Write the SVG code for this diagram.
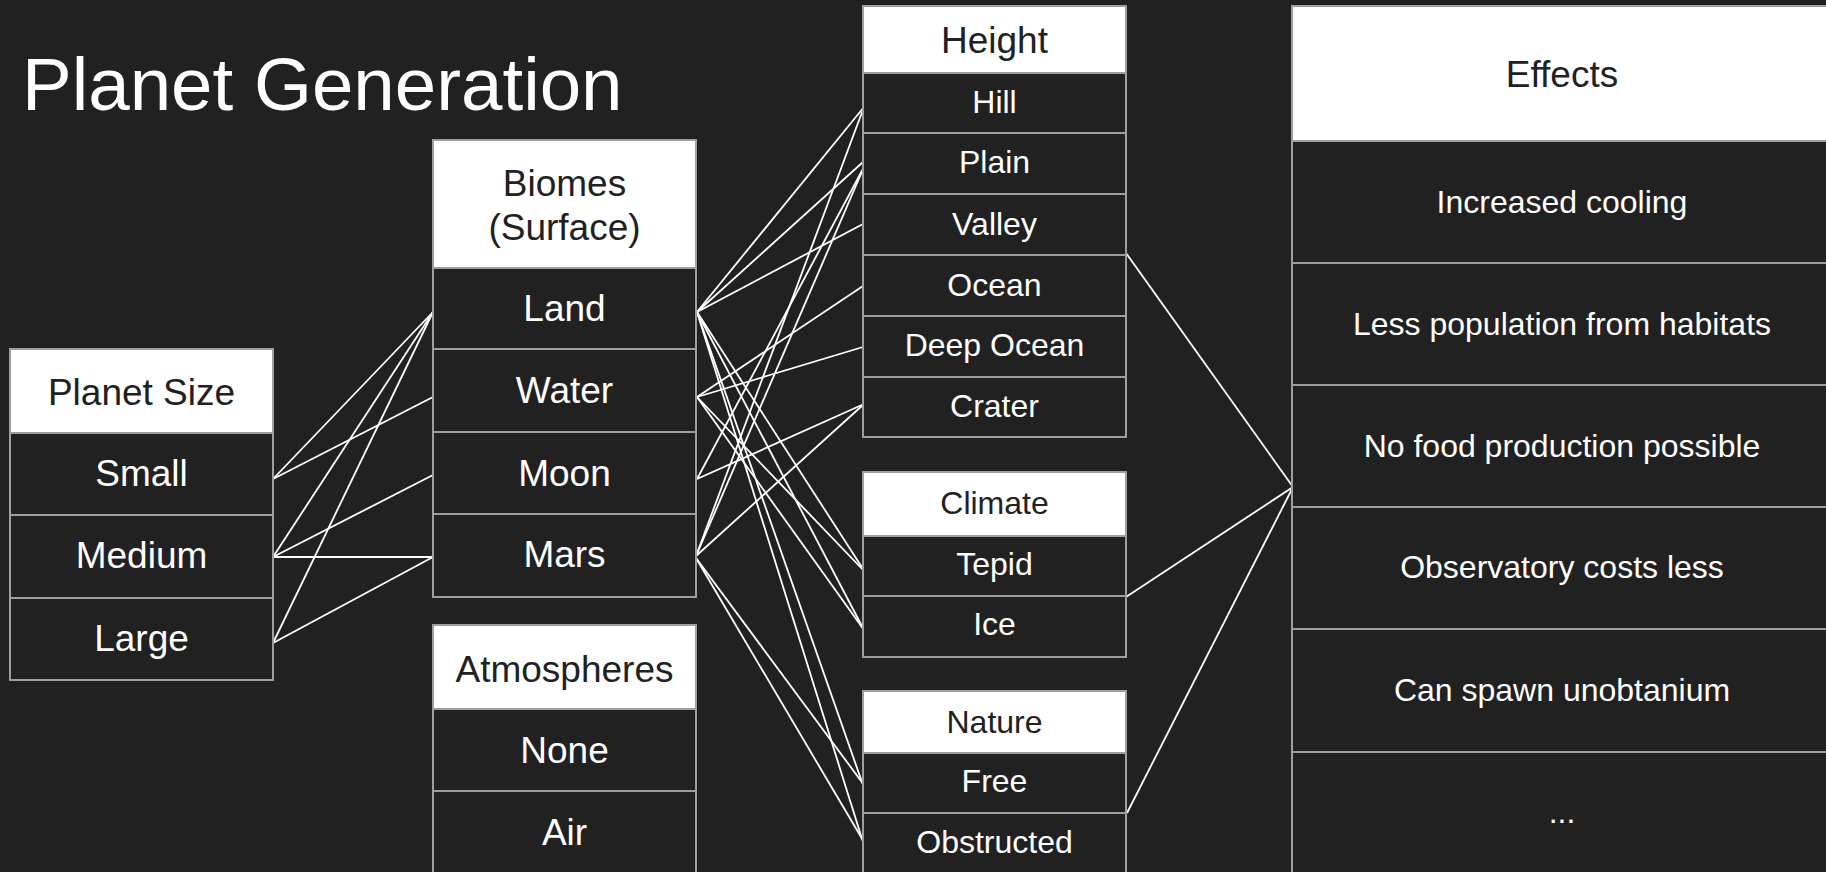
<svg xmlns="http://www.w3.org/2000/svg" width="1826" height="872" viewBox="0 0 1826 872">
<style>
.bg{fill:#212121}
.hd{fill:#ffffff;stroke:#9e9e9e;stroke-width:2}
.cl{fill:#212121;stroke:#9e9e9e;stroke-width:2}
text{font-family:"Liberation Sans",Arial,sans-serif;text-anchor:middle}
.ht{fill:#212121}
.rt{fill:#ffffff}
.f36{font-size:37px}
.f31{font-size:32px}
.title{font-size:74.5px;fill:#ffffff;text-anchor:start}
.cn line{stroke:#ffffff;stroke-width:1.8;fill:none}
</style>
<rect class="bg" x="0" y="0" width="1826" height="872"/>
<text class="title" x="22" y="110">Planet Generation</text>

<g id="connectors" class="cn">
<line x1="273" y1="479" x2="433" y2="312"/>
<line x1="273" y1="479" x2="433" y2="397"/>
<line x1="273" y1="557" x2="433" y2="312"/>
<line x1="273" y1="557" x2="433" y2="475"/>
<line x1="273" y1="557" x2="433" y2="557"/>
<line x1="273" y1="643" x2="433" y2="312"/>
<line x1="273" y1="643" x2="433" y2="557"/>

<line x1="697" y1="312" x2="864" y2="107"/>
<line x1="697" y1="312" x2="863" y2="162"/>
<line x1="697" y1="312" x2="863" y2="224"/>
<line x1="697" y1="312" x2="865" y2="572"/>
<line x1="697" y1="312" x2="864" y2="630"/>
<line x1="697" y1="312" x2="863" y2="785"/>
<line x1="697" y1="312" x2="863" y2="842"/>
<line x1="697" y1="397" x2="863" y2="286"/>
<line x1="697" y1="397" x2="863" y2="347"/>
<line x1="697" y1="397" x2="865" y2="572"/>
<line x1="697" y1="397" x2="864" y2="630"/>
<line x1="697" y1="479" x2="864" y2="167"/>
<line x1="697" y1="479" x2="864" y2="404"/>
<line x1="696" y1="556" x2="864" y2="107"/>
<line x1="696" y1="556" x2="864" y2="167"/>
<line x1="696" y1="556" x2="864" y2="404"/>
<line x1="696" y1="558" x2="864" y2="785"/>
<line x1="696" y1="558" x2="864" y2="842"/>

<line x1="1126" y1="253" x2="1293" y2="487"/>
<line x1="1126" y1="597" x2="1293" y2="487"/>
<line x1="1127" y1="813" x2="1293" y2="487"/>
</g>

<g id="planet-size">
<rect class="hd" x="10" y="349" width="263" height="84"/>
<text class="ht f36" x="141.5" y="405">Planet Size</text>
<g id="ps-small"><rect class="cl" x="10" y="433" width="263" height="82"/><text class="rt f36" x="141.5" y="486">Small</text></g>
<g id="ps-medium"><rect class="cl" x="10" y="515" width="263" height="83"/><text class="rt f36" x="141.5" y="568">Medium</text></g>
<g id="ps-large"><rect class="cl" x="10" y="598" width="263" height="82"/><text class="rt f36" x="141.5" y="651">Large</text></g>
</g>

<g id="biomes">
<rect class="hd" x="433" y="140" width="263" height="128"/>
<text class="ht f36" x="564.5" y="196">Biomes</text>
<text class="ht f36" x="564.5" y="240">(Surface)</text>
<g id="bi-land"><rect class="cl" x="433" y="268" width="263" height="81"/><text class="rt f36" x="564.5" y="321">Land</text></g>
<g id="bi-water"><rect class="cl" x="433" y="349" width="263" height="83"/><text class="rt f36" x="564.5" y="403">Water</text></g>
<g id="bi-moon"><rect class="cl" x="433" y="432" width="263" height="82"/><text class="rt f36" x="564.5" y="486">Moon</text></g>
<g id="bi-mars"><rect class="cl" x="433" y="514" width="263" height="83"/><text class="rt f36" x="564.5" y="567">Mars</text></g>
</g>

<g id="atmospheres">
<rect class="hd" x="433" y="625" width="263" height="84"/>
<text class="ht f36" x="564.5" y="682">Atmospheres</text>
<g id="at-none"><rect class="cl" x="433" y="709" width="263" height="82"/><text class="rt f36" x="564.5" y="763">None</text></g>
<g id="at-air"><rect class="cl" x="433" y="791" width="263" height="90"/><text class="rt f36" x="564.5" y="845">Air</text></g>
</g>

<g id="height">
<rect class="hd" x="863" y="6" width="263" height="67"/>
<text class="ht f36" x="994.5" y="53">Height</text>
<g id="he-hill"><rect class="cl" x="863" y="73" width="263" height="60"/><text class="rt f31" x="994.5" y="113">Hill</text></g>
<g id="he-plain"><rect class="cl" x="863" y="133" width="263" height="61"/><text class="rt f31" x="994.5" y="173">Plain</text></g>
<g id="he-valley"><rect class="cl" x="863" y="194" width="263" height="61"/><text class="rt f31" x="994.5" y="235">Valley</text></g>
<g id="he-ocean"><rect class="cl" x="863" y="255" width="263" height="61"/><text class="rt f31" x="994.5" y="296">Ocean</text></g>
<g id="he-deep"><rect class="cl" x="863" y="316" width="263" height="61"/><text class="rt f31" x="994.5" y="356">Deep Ocean</text></g>
<g id="he-crater"><rect class="cl" x="863" y="377" width="263" height="60"/><text class="rt f31" x="994.5" y="417">Crater</text></g>
</g>

<g id="climate">
<rect class="hd" x="863" y="472" width="263" height="64"/>
<text class="ht f31" x="994.5" y="514">Climate</text>
<g id="cl-tepid"><rect class="cl" x="863" y="536" width="263" height="60"/><text class="rt f31" x="994.5" y="575">Tepid</text></g>
<g id="cl-ice"><rect class="cl" x="863" y="596" width="263" height="61"/><text class="rt f31" x="994.5" y="635">Ice</text></g>
</g>

<g id="nature">
<rect class="hd" x="863" y="691" width="263" height="62"/>
<text class="ht f31" x="994.5" y="733">Nature</text>
<g id="na-free"><rect class="cl" x="863" y="753" width="263" height="60"/><text class="rt f31" x="994.5" y="792">Free</text></g>
<g id="na-obstructed"><rect class="cl" x="863" y="813" width="263" height="68"/><text class="rt f31" x="994.5" y="853">Obstructed</text></g>
</g>

<g id="effects">
<rect class="hd" x="1292" y="6" width="540" height="135"/>
<text class="ht f36" x="1562" y="87">Effects</text>
<g id="ef-1"><rect class="cl" x="1292" y="141" width="540" height="122"/><text class="rt f31" x="1562" y="213">Increased cooling</text></g>
<g id="ef-2"><rect class="cl" x="1292" y="263" width="540" height="122"/><text class="rt f31" x="1562" y="335">Less population from habitats</text></g>
<g id="ef-3"><rect class="cl" x="1292" y="385" width="540" height="122"/><text class="rt f31" x="1562" y="457">No food production possible</text></g>
<g id="ef-4"><rect class="cl" x="1292" y="507" width="540" height="122"/><text class="rt f31" x="1562" y="578">Observatory costs less</text></g>
<g id="ef-5"><rect class="cl" x="1292" y="629" width="540" height="123"/><text class="rt f31" x="1562" y="701">Can spawn unobtanium</text></g>
<g id="ef-6"><rect class="cl" x="1292" y="752" width="540" height="130"/><text class="rt f31" x="1562" y="823">...</text></g>
</g>
</svg>
